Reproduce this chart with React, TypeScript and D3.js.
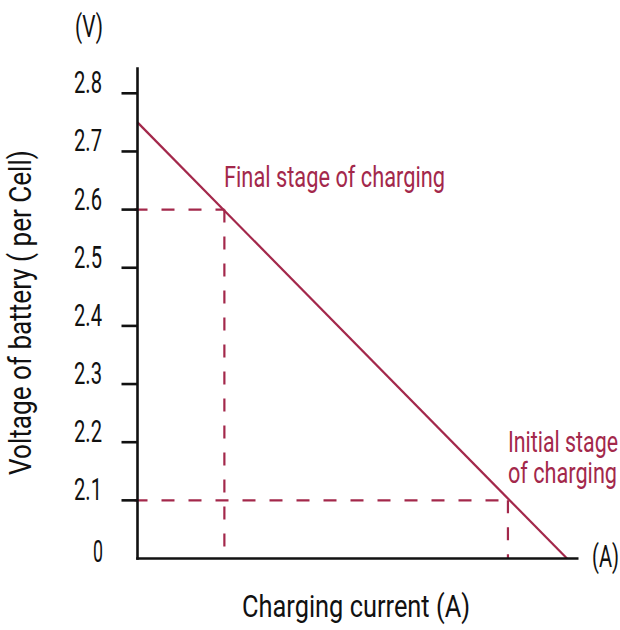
import React, { useLayoutEffect, useRef, useState } from "react";
import * as d3 from "d3";

// Data
const yTickValues = [2.0, 2.1, 2.2, 2.3, 2.4, 2.5, 2.6, 2.7, 2.8];
const yTickLabels = ["0", "2.1", "2.2", "2.3", "2.4", "2.5", "2.6", "2.7", "2.8"];
const lineCurrent = [0, 97.4];
const lineVoltage = [2.75, 2.0];
const markerCurrent = [19.7, 84.0];
const markerVoltage = [2.6, 2.1];
const markerLabels = [["Final stage of charging"], ["Initial stage", "of charging"]];

const W = 620;
const H = 630;
const RED = "#a3284b";
const FONT = "Roboto, 'Noto Sans', sans-serif";

type FitProps = {
  x: number;
  y: number;
  width: number;
  anchor?: "start" | "end" | "middle";
  rotate?: number;
  size?: number;
  fill?: string;
  children: string;
};

function FitText({ x, y, width, anchor = "start", rotate = 0, size = 31, fill = "#111", children }: FitProps) {
  const ref = useRef<SVGTextElement>(null);
  const [s, setS] = useState(0.7);
  useLayoutEffect(() => {
    if (ref.current) {
      const w = ref.current.getComputedTextLength();
      if (w > 0) setS(width / w);
    }
  }, [width, children, size]);
  return (
    <text
      ref={ref}
      transform={`translate(${x},${y}) rotate(${rotate}) scale(${s},1)`}
      textAnchor={anchor}
      fontSize={size}
      fill={fill}
    >
      {children}
    </text>
  );
}

export default function App() {
  const x = d3.scaleLinear().domain([0, 100]).range([137.5, 578.5]);
  const y = d3.scaleLinear().domain([2.0, 2.8]).range([558.5, 93.3]);
  const yTop = y(2.845);
  const x0 = x(0);
  const y0 = y(2.0);
  const line = d3
    .line<number>()
    .x((_, i) => x(lineCurrent[i]))
    .y((v) => y(v));

  const labelPos = [
    { x: 224, ys: [187], lens: [221] },
    { x: 508, ys: [452, 483], lens: [110, 109] },
  ];

  return (
    <svg
      width={W}
      height={H}
      style={{ position: "absolute", left: 0, top: 0, background: "#fff" }}
      fontFamily={FONT}
    >
      {/* dashed guide lines */}
      {markerCurrent.map((c, i) => (
        <g key={"m" + i} stroke={RED} strokeWidth={2.2} strokeDasharray="13 14" fill="none">
          <line x1={x0 - 3} x2={x(c)} y1={y(markerVoltage[i])} y2={y(markerVoltage[i])} />
          <line x1={x(c)} x2={x(c)} y1={y(markerVoltage[i])} y2={y0} />
        </g>
      ))}
      {/* main line */}
      <path d={line(lineVoltage) || ""} stroke={RED} strokeWidth={2.2} fill="none" />
      {/* axes */}
      <line x1={x0} x2={x0} y1={yTop} y2={y0 + 1.2} stroke="#111" strokeWidth={2.6} />
      <line x1={x0 - 1.3} x2={x(100)} y1={y0} y2={y0} stroke="#111" strokeWidth={2.6} />
      {yTickValues.map((v, i) =>
        i === 0 ? null : (
          <line key={"t" + i} x1={x0 - 16} x2={x0} y1={y(v)} y2={y(v)} stroke="#111" strokeWidth={2.6} />
        )
      )}
      {yTickValues.map((v, i) => (
        <FitText
          key={"l" + i}
          x={i === 0 ? 103 : 102}
          y={i === 0 ? y(v) + 3 : y(v)}
          anchor="end"
          width={i === 0 ? 10 : 28}
        >
          {yTickLabels[i]}
        </FitText>
      ))}
      {/* unit labels */}
      <FitText x={75} y={37} width={28}>(V)</FitText>
      <FitText x={592} y={567} width={27}>(A)</FitText>
      {/* axis titles */}
      <FitText x={242} y={617} width={228} size={32}>Charging current (A)</FitText>
      <FitText x={31} y={475} rotate={-90} width={325} size={32}>
        Voltage of battery ( per Cell)
      </FitText>
      {/* annotations */}
      {markerLabels.map((lines, i) =>
        lines.map((t, j) => (
          <FitText
            key={"a" + i + j}
            x={labelPos[i].x}
            y={labelPos[i].ys[j]}
            width={labelPos[i].lens[j]}
            fill={RED}
            size={30}
          >
            {t}
          </FitText>
        ))
      )}
    </svg>
  );
}
